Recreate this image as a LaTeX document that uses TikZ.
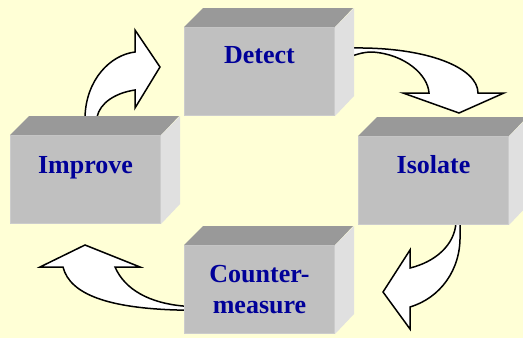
\documentclass[tikz,border=0pt]{standalone}
\usepackage{fontspec}
\setmainfont{Liberation Serif}
\definecolor{bg}{RGB}{255,255,214}
\definecolor{frontgray}{RGB}{192,192,192}
\definecolor{topgray}{RGB}{153,153,153}
\definecolor{sidegray}{RGB}{224,224,224}
\definecolor{edgegray}{RGB}{204,204,204}
\definecolor{textblue}{RGB}{0,0,153}
\tikzset{
  frontface/.style={fill=frontgray, draw=edgegray, line width=1pt, minimum width=150pt, minimum height=88pt, inner sep=0pt, anchor=north west},
  topface/.style={fill=topgray},
  sideface/.style={fill=sidegray},
  lbl/.style={font=\fontsize{26}{31}\selectfont\bfseries, text=textblue, anchor=base, inner sep=0pt},
  blockarrow/.style={fill=white, draw=black, line width=1.5pt, line join=miter}
}
\newcommand\mycube[3]{%
  \node[frontface] (#1) at (#2,#3) {};
  \fill[topface] (#1.north west) -- ++(19,-19) -- ++(150,0) -- (#1.north east) -- cycle;
  \fill[sideface] (#1.north east) -- ++(19,-19) -- ++(0,88) -- (#1.south east) -- cycle;
}
\begin{document}
\begin{tikzpicture}[x=1pt,y=-1pt]
\fill[bg] (0,0) rectangle (523,338);
\useasboundingbox (0,0) rectangle (523,338);
% Detect -> Isolate
\draw[blockarrow] (340,48) -- (353,48) .. controls (428,47) and (478,68) .. (478,93)
  -- (504,93) -- (459,113) -- (403,93) -- (429,93)
  .. controls (428,75) and (405,54) .. (372,52)
  .. controls (362,52) and (355,55) .. (340,60) -- cycle;
% Isolate -> Countermeasure
\draw[blockarrow] (460,215) -- (460,235) .. controls (461,270) and (440,298) .. (410,307)
  -- (410,329) -- (383,292) -- (410,250) -- (410,268)
  .. controls (435,262) and (455,245) .. (456,222) -- (456,215) -- cycle;
% Countermeasure -> Improve
\draw[blockarrow] (195,310) -- (177,310) .. controls (110,308) and (70,295) .. (63,267)
  -- (40,267) -- (85,245) -- (140,267) -- (115,267)
  .. controls (125,290) and (150,303) .. (183,306) -- (195,306) -- cycle;
% Improve -> Detect
\draw[blockarrow] (85,125) -- (85,117) .. controls (86,80) and (110,55) .. (135,52)
  -- (135,30) -- (160,67) -- (135,108) -- (135,90)
  .. controls (115,93) and (100,103) .. (97,117) -- (97,125) -- cycle;
% boxes
\mycube{detect}{184}{27}
\mycube{isolate}{358}{136}
\mycube{improve}{10}{135}
\mycube{counter}{184}{245}
\node[lbl] (tdetect) at ([yshift=-36pt]detect.north) {Detect};
\node[lbl] (tisolate) at ([yshift=-37pt]isolate.north) {Isolate};
\node[lbl] (timprove) at ([yshift=-38pt]improve.north) {Improve};
\node[lbl] (tcounter) at ([yshift=-37pt]counter.north) {Counter-};
\node[lbl] (tmeasure) at ([yshift=-68pt]counter.north) {measure};
\end{tikzpicture}
\end{document}
